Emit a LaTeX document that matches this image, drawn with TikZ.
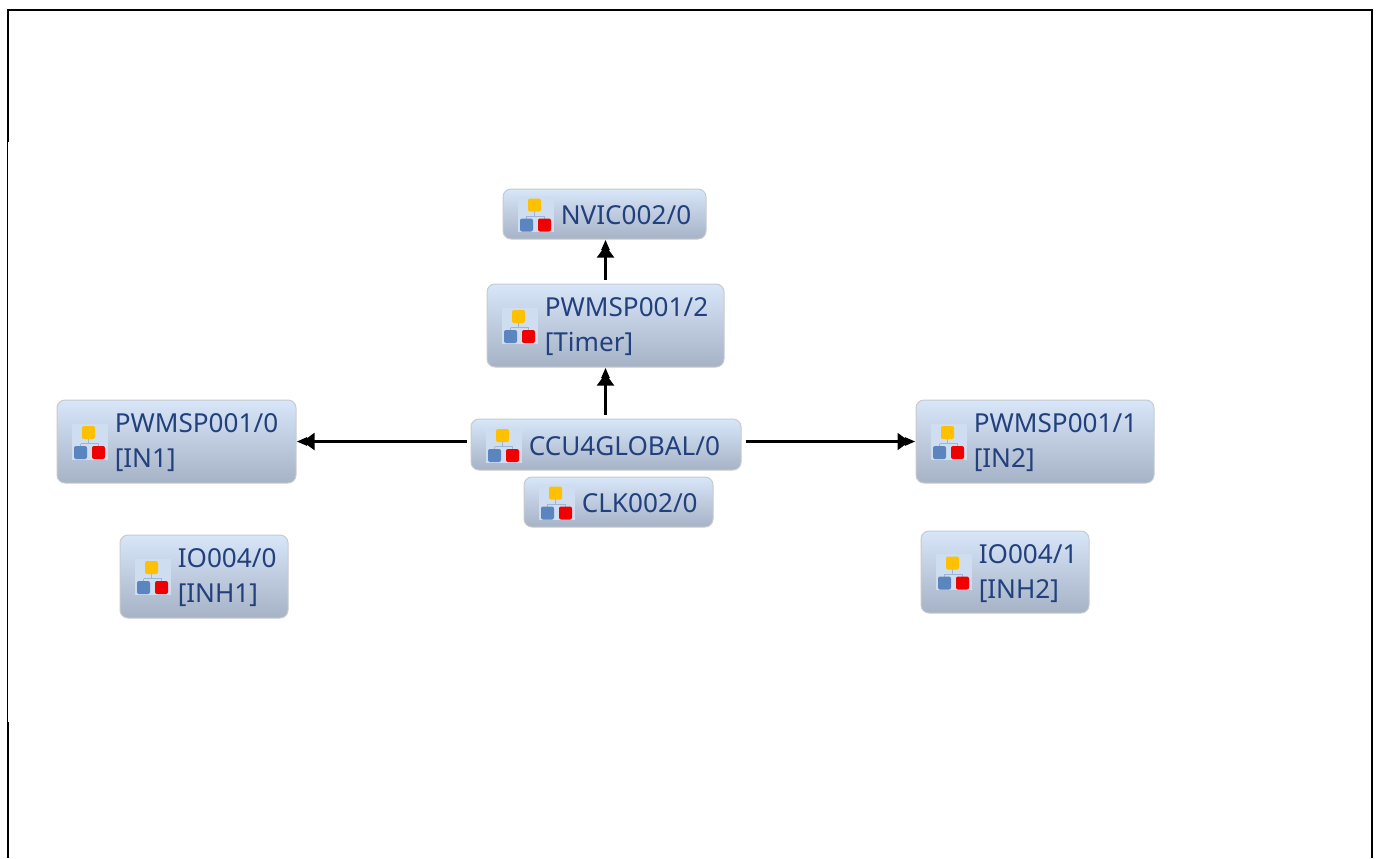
\documentclass[tikz,border=0pt]{standalone}
\usepackage{fontspec}
\setmainfont{Noto Sans}
\usetikzlibrary{arrows.meta}
\definecolor{boxtop}{HTML}{D8E6FA}
\definecolor{boxbot}{HTML}{A6B2C6}
\definecolor{boxline}{HTML}{C8CACC}
\definecolor{labelblue}{HTML}{22407C}
\definecolor{iconbg}{HTML}{CFDDF0}
\definecolor{iconyellow}{HTML}{FFC000}
\definecolor{iconblue}{HTML}{5B85BE}
\definecolor{iconred}{HTML}{F00000}
\tikzset{
	appbox/.style={draw=boxline, line width=.75pt, rounded corners=6pt, top color=boxtop, bottom color=boxbot, inner sep=0pt},
	applabel/.style={anchor=west, inner sep=0pt, align=left, text=labelblue, font=\fontsize{19.6}{26.5}\selectfont},
	link/.style={line width=2.7pt, -{Triangle[length=9pt,width=12.5pt,sep=-3.5pt] Triangle[length=8pt,width=6pt]}},
	frameline/.style={line width=1.7pt, line cap=butt},
	pics/appicon/.style={code={
		\fill[iconbg] (-18,-18) rectangle (18,18);
		\draw[iconblue!60, line width=.5pt] (-1,-9)--(-1,2) (-9,2)--(9,2) (-9,2)--(-9,11) (9,2)--(9,11);
		\fill[iconyellow, rounded corners=1.5pt] (-7.5,-15.5) rectangle (5.5,-2.5);
		\fill[iconblue, rounded corners=1.5pt] (-15.5,4.5) rectangle (-2.5,17.5);
		\fill[iconred, rounded corners=1.5pt] (2.5,4.5) rectangle (15.5,17.5);
	}}
}
\begin{document}
\begin{tikzpicture}[x=.75pt, y=-.75pt, >=stealth]
	\useasboundingbox (0,0) rectangle (1377,858);
	% cadre
	\draw[frameline] (8,142)--(8,10)--(1372,10)--(1372,858);
	\draw[frameline] (8,722)--(8,858);
	\draw[line width=.7pt] (7.5,142)--(7.5,722);
	% boites
	\foreach \nom/\x/\y/\w/\h/\txt in {
		nvic/604.5/214/203/50/{NVIC002/0},
		pwmB/605.5/325.5/237/83/{PWMSP001/2\\{}[Timer]},
		pwmO/176.5/441.5/239/83/{PWMSP001/0\\{}[IN1]},
		ccu/606/444.5/270/51/{CCU4GLOBAL/0},
		clk/618.5/502/189/50/{CLK002/0},
		pwmA/1035/441.5/238/83/{PWMSP001/1\\{}[IN2]},
		ioO/204/576.5/168/83/{IO004/0\\{}[INH1]},
		ioA/1005/572/168/82/{IO004/1\\{}[INH2]}}
	{
		\node[appbox, minimum width=\w*.75pt, minimum height=\h*.75pt] (\nom) at (\x,\y) {};
		\pic at ([xshift=33*.75pt]\nom.west) {appicon};
		\node[applabel] (\nom txt) at ([xshift=58*.75pt, yshift=-1pt]\nom.west) {\txt};
	}
	% liaisons
	\draw[link] ([yshift=3pt]ccu.north -| pwmB.south) -- (pwmB.south);
	\draw[link] ([yshift=3pt]pwmB.north) -- (pwmB.north |- nvic.south);
	\draw[link] ([xshift=-3pt]ccu.west |- pwmO.east) -- (pwmO.east);
	\draw[link] ([xshift=3pt]ccu.east |- pwmA.west) -- (pwmA.west);
\end{tikzpicture}
\end{document}
